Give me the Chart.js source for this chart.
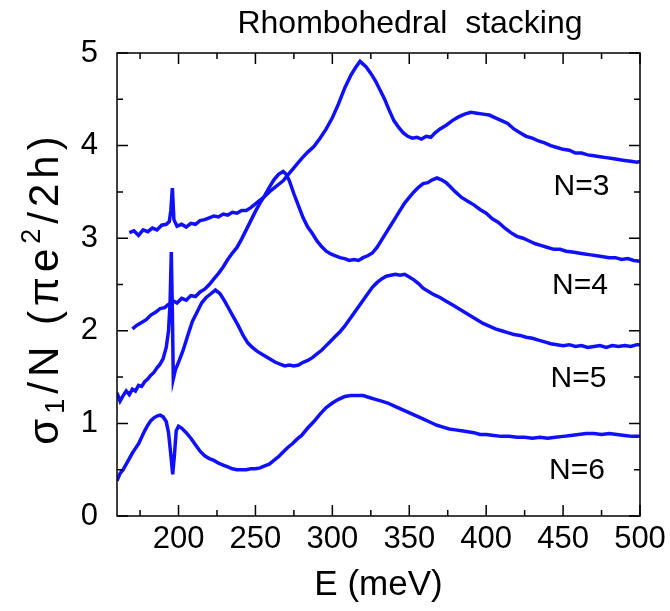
<!DOCTYPE html>
<html>
<head>
<meta charset="utf-8">
<script src="https://cdn.jsdelivr.net/npm/chart.js@4.4.1/dist/chart.umd.min.js"></script>
<style>
  body { margin: 0; background: #fff; }
  canvas { display: block; }
</style>
</head>
<body>
<canvas id="chart" width="670" height="611"></canvas>
<script>
// ---- data: E (meV) and sigma1/N (pi e^2/2h) ----
const e3 = [168,171,174,177,180,183,186,189,192,194,195,196,197,199,202,205,208,211,214,217,220,223,226,229,232,235,238,241,244,247,250,253,256,259,262,265,268,271,274,277,280,284,288,292,296,300,304,308,312,315,318,320,322,325,328,331,334,337,340,343,346,349,352,355,358,361,364,367,370,374,378,382,386,390,394,398,402,406,410,414,418,422,426,430,434,438,442,446,450,454,458,462,466,470,474,478,482,486,490,494,498,500];
const s3 = [3.06,3.08,3.03,3.09,3.07,3.11,3.09,3.14,3.15,3.18,3.3,3.54,3.2,3.13,3.15,3.12,3.16,3.15,3.19,3.2,3.22,3.24,3.23,3.26,3.25,3.28,3.27,3.3,3.3,3.33,3.37,3.41,3.45,3.5,3.54,3.58,3.62,3.68,3.74,3.8,3.86,3.93,3.99,4.08,4.18,4.3,4.45,4.62,4.76,4.84,4.91,4.88,4.85,4.78,4.7,4.6,4.5,4.38,4.27,4.2,4.14,4.1,4.08,4.09,4.07,4.1,4.09,4.14,4.18,4.22,4.27,4.31,4.34,4.36,4.35,4.34,4.33,4.3,4.27,4.24,4.18,4.14,4.1,4.08,4.05,4.03,4.0,3.98,3.96,3.95,3.92,3.92,3.9,3.89,3.88,3.87,3.86,3.85,3.84,3.83,3.82,3.83];

const e4 = [170,173,176,179,182,185,188,191,193,195,197,199,202,205,208,211,214,217,220,223,226,229,232,235,238,241,244,247,250,253,256,259,262,265,268,270,272,275,278,281,284,287,290,293,296,299,302,305,308,311,314,317,320,323,326,329,332,335,338,341,344,347,350,353,356,359,362,365,368,371,374,377,380,384,388,392,396,400,404,408,412,416,420,424,428,432,436,440,444,448,452,456,460,464,468,472,476,480,484,488,492,496,500];
const s4 = [2.02,2.06,2.09,2.12,2.17,2.2,2.24,2.25,2.28,2.3,2.32,2.3,2.35,2.33,2.38,2.37,2.42,2.45,2.5,2.56,2.62,2.69,2.77,2.84,2.9,2.99,3.09,3.19,3.29,3.38,3.46,3.55,3.63,3.69,3.72,3.69,3.62,3.48,3.35,3.22,3.12,3.05,2.97,2.91,2.86,2.83,2.81,2.79,2.78,2.76,2.77,2.76,2.79,2.81,2.84,2.9,2.98,3.06,3.14,3.22,3.3,3.38,3.44,3.5,3.55,3.59,3.6,3.63,3.65,3.63,3.6,3.55,3.5,3.44,3.4,3.36,3.31,3.27,3.21,3.17,3.11,3.06,3.02,3.0,2.97,2.94,2.92,2.9,2.88,2.88,2.86,2.85,2.84,2.83,2.82,2.81,2.8,2.79,2.79,2.77,2.78,2.76,2.75];

const e5 = [160,162,164,166,168,170,172,174,176,178,180,182,184,186,188,190,192,193.5,194.5,195.3,196,196.6,198,200,203,206,209,212,215,218,221,224,227,230,233,236,239,242,245,248,251,254,257,260,263,266,269,272,275,278,281,284,287,290,293,296,299,302,305,308,311,314,317,320,323,326,329,332,335,338,341,344,347,350,353,356,359,362,366,370,374,378,382,386,390,394,398,402,406,410,414,418,422,426,430,434,438,442,446,450,454,458,462,466,470,474,478,482,486,490,494,498,500];
const s5 = [1.33,1.24,1.3,1.35,1.31,1.37,1.35,1.41,1.4,1.45,1.48,1.52,1.55,1.6,1.64,1.7,1.82,2.0,2.3,2.85,2.2,1.48,1.58,1.66,1.79,1.95,2.1,2.2,2.3,2.36,2.4,2.44,2.4,2.32,2.23,2.14,2.05,1.95,1.87,1.82,1.78,1.75,1.72,1.69,1.66,1.64,1.62,1.63,1.62,1.63,1.66,1.68,1.71,1.75,1.79,1.84,1.89,1.94,1.99,2.05,2.12,2.19,2.26,2.33,2.4,2.47,2.52,2.56,2.59,2.6,2.61,2.6,2.61,2.58,2.55,2.51,2.46,2.43,2.39,2.36,2.32,2.28,2.24,2.2,2.16,2.12,2.08,2.05,2.02,2.0,1.98,1.96,1.95,1.93,1.92,1.9,1.88,1.86,1.85,1.84,1.85,1.83,1.84,1.82,1.83,1.84,1.82,1.84,1.83,1.84,1.83,1.85,1.85];

const e6 = [160,162,164,166,168,170,172,174,176,178,180,182,184,186,188,190,192,193.5,195,196.2,197.3,198.5,200,202,205,208,211,214,217,220,223,226,229,232,235,238,241,244,247,250,253,256,259,262,265,268,271,274,277,280,284,288,292,296,300,304,308,312,316,320,324,328,332,336,340,344,348,352,356,360,364,368,372,376,380,384,388,392,396,400,405,410,415,420,425,430,435,440,445,450,455,460,465,470,475,480,485,490,495,500];
const s6 = [0.38,0.46,0.5,0.56,0.62,0.68,0.73,0.78,0.85,0.92,0.98,1.03,1.06,1.08,1.09,1.07,1.02,0.9,0.66,0.45,0.65,0.92,0.97,0.95,0.9,0.84,0.77,0.7,0.65,0.62,0.6,0.57,0.55,0.53,0.51,0.5,0.5,0.5,0.51,0.51,0.52,0.54,0.56,0.6,0.64,0.69,0.74,0.78,0.83,0.87,0.95,1.02,1.1,1.17,1.22,1.26,1.29,1.3,1.3,1.3,1.28,1.26,1.24,1.22,1.19,1.16,1.13,1.1,1.07,1.04,1.01,0.98,0.96,0.94,0.93,0.92,0.91,0.9,0.88,0.88,0.87,0.86,0.86,0.85,0.85,0.84,0.85,0.84,0.85,0.86,0.87,0.88,0.89,0.89,0.88,0.89,0.88,0.87,0.86,0.86];

const xTicks = [200, 250, 300, 350, 400, 450, 500];
const xMinor = [175, 225, 275, 325, 375, 425, 475];
const yTicks = [0, 1, 2, 3, 4, 5];
const yMinor = [0.5, 1.5, 2.5, 3.5, 4.5];

const curveLabels = ["N=3", "N=4", "N=5", "N=6"];
const labelX = [462, 461, 460, 459];
const labelY = [3.56, 2.49, 1.48, 0.49];

const FONT = "'Liberation Sans', Arial, Helvetica, sans-serif";
const BLUE = "#1010ff";

function toPoints(xs, ys) {
    return xs.map((x, i) => ({ x: x, y: ys[i] }));
}

function makeSet(xs, ys) {
    return {
        data: toPoints(xs, ys),
        showLine: true,
        borderColor: BLUE,
        borderWidth: 3.5,
        pointRadius: 0,
        tension: 0,
        fill: false
    };
}

// frame, inward ticks, labels and titles
const decor = {
    id: "decor",
    afterDraw(chart) {
        const c = chart.ctx;
        const a = chart.chartArea;
        const xs = chart.scales.x;
        const ys = chart.scales.y;
        c.save();
        c.strokeStyle = "#000";
        c.lineWidth = 1.5;
        c.strokeRect(a.left, a.top, a.right - a.left, a.bottom - a.top);

        c.beginPath();
        function xt(v, len) {
            const p = xs.getPixelForValue(v);
            c.moveTo(p, a.bottom); c.lineTo(p, a.bottom - len);
            c.moveTo(p, a.top); c.lineTo(p, a.top + len);
        }
        function yt(v, len) {
            const p = ys.getPixelForValue(v);
            c.moveTo(a.left, p); c.lineTo(a.left + len, p);
            c.moveTo(a.right, p); c.lineTo(a.right - len, p);
        }
        xTicks.forEach(v => xt(v, 11));
        xMinor.forEach(v => xt(v, 6));
        yTicks.forEach(v => yt(v, 11));
        yMinor.forEach(v => yt(v, 6));
        c.stroke();

        c.fillStyle = "#000";
        c.textBaseline = "middle";
        c.textAlign = "center";

        // curve labels
        c.font = "30px " + FONT;
        curveLabels.forEach((t, i) => {
            c.fillText(t, xs.getPixelForValue(labelX[i]), ys.getPixelForValue(labelY[i]));
        });

        // title
        c.font = "32px " + FONT;
        c.fillText("Rhombohedral  stacking", 410, 24);

        // x title
        c.font = "35px " + FONT;
        c.fillText("E (meV)", (a.left + a.right) / 2, 585);

        // y title with sub/superscripts, drawn glyph by glyph with spacing
        const big = "42px " + FONT;
        const small = "27px " + FONT;
        const gap = 5;
        const glyphs = [];
        [["\u03c3", big, 0], ["1", small, 11], ["/N (\u03c0e", big, 0], ["2", small, -13], ["/2h)", big, 0]]
            .forEach(p => { for (const ch of p[0]) glyphs.push([ch, p[1], p[2]]); });
        let total = 0;
        glyphs.forEach(g => { c.font = g[1]; total += c.measureText(g[0]).width + gap; });
        total -= gap;
        c.translate(46, (a.top + a.bottom) / 2 + 6);
        c.rotate(-Math.PI / 2);
        c.textAlign = "left";
        let pos = -total / 2;
        glyphs.forEach(g => {
            c.font = g[1];
            c.fillText(g[0], pos, g[2]);
            pos += c.measureText(g[0]).width + gap;
        });
        c.restore();
    }
};

new Chart(document.getElementById("chart").getContext("2d"), {
    type: "scatter",
    data: {
        datasets: [makeSet(e3, s3), makeSet(e4, s4), makeSet(e5, s5), makeSet(e6, s6)]
    },
    options: {
        responsive: false,
        animation: false,
        layout: { padding: { top: 53, right: 30, left: 0, bottom: 0 } },
        plugins: {
            legend: { display: false },
            tooltip: { enabled: false }
        },
        scales: {
            x: {
                type: "linear",
                min: 160,
                max: 500,
                afterBuildTicks: s => { s.ticks = xTicks.map(v => ({ value: v })); },
                afterFit: s => { s.height = 95; },
                grid: { display: false },
                border: { display: false },
                ticks: { color: "#000", font: { family: FONT, size: 31 }, padding: -3, maxRotation: 0 }
            },
            y: {
                type: "linear",
                min: 0,
                max: 5,
                afterBuildTicks: s => { s.ticks = yTicks.map(v => ({ value: v })); },
                afterFit: s => { s.width = 117; },
                grid: { display: false },
                border: { display: false },
                ticks: { color: "#000", font: { family: FONT, size: 31 }, padding: 11 }
            }
        }
    },
    plugins: [decor]
});
</script>
</body>
</html>
